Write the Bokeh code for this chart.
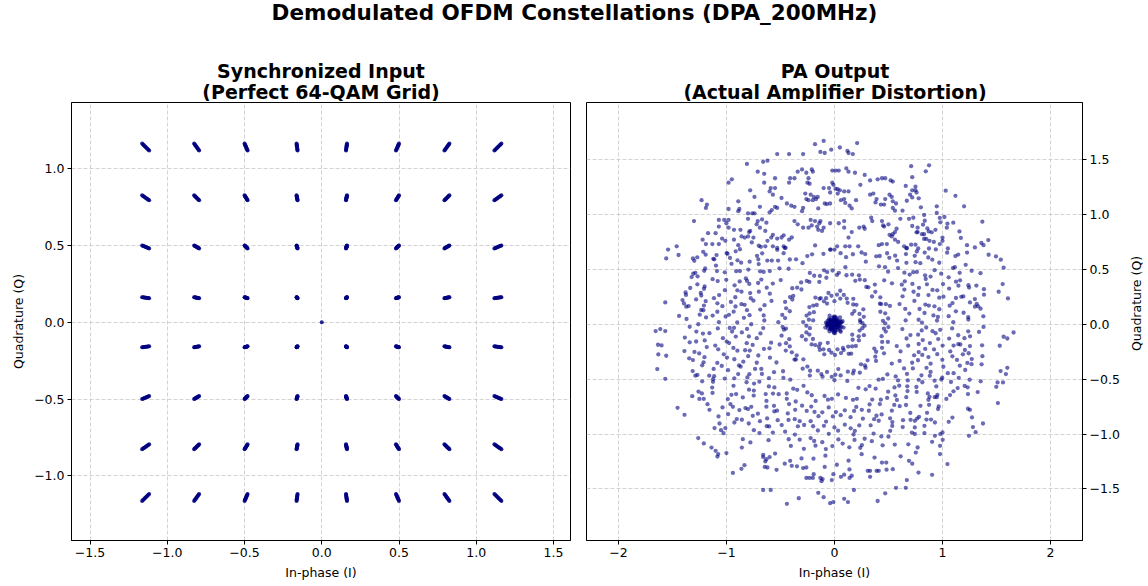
import numpy as np
from bokeh.plotting import figure
from bokeh.layouts import column, row
from bokeh.models import Label, Range1d, FixedTicker, CustomJSTickFormatter, ColumnDataSource
from bokeh.embed import file_html
from bokeh.resources import INLINE

FONT = "DejaVu Sans"
NAVY = "#000080"

# ---------------- data: left panel (synchronized 64-QAM) ----------------
qam_levels = [-1.14, -0.81, -0.49, -0.16, 0.16, 0.49, 0.81, 1.14]
am_gain = [0.980, 0.985, 0.990, 0.995, 1.000, 1.005, 1.010, 1.015, 1.020]
null_point_i = [0.0]
null_point_q = [0.0]

# ---------------- data: right panel (PA output) ----------------
# polar rings (magnitude, phase in degrees)
center_mag = [0.01,0.03,0.05,0.02,0.06,0.04,0.07,0.03,0.05,0.08,0.02,0.06,0.04,0.07,0.01,0.05,0.03,0.06,0.08,0.04,
              0.02,0.07,0.05,0.03,0.06,0.04,0.09,0.02,0.05,0.07,0.03,0.06,0.04,0.08,0.01,0.05,0.06,0.03,0.07,0.04,
              0.09,0.02,0.05,0.06,0.03,0.08,0.04,0.07,0.05,0.02,0.06,0.04,0.09,0.03,0.05,0.07,0.02,0.06,0.04,0.08,
              0.02,0.04,0.06,0.03,0.05,0.07,0.01,0.04,0.06,0.08,0.03,0.05,0.02,0.07,0.04,0.06,0.03,0.05,0.08,0.02,
              0.04,0.06,0.03,0.07,0.05,0.01,0.04,0.06,0.09,0.03]
center_phase = [20,75,130,200,250,310,15,160,280,50,100,190,230,340,290,5,45,110,170,220,
                330,265,95,140,300,60,120,260,180,215,355,30,150,275,240,65,325,205,85,175,
                310,40,250,140,290,20,100,190,345,160,230,10,200,115,320,135,70,90,270,235,
                5,38,72,105,142,178,210,244,279,313,350,25,60,95,128,163,198,232,267,300,
                335,15,85,155,225,295,50,190,340,120]

ring1_mag = [0.26,0.24,0.28,0.25,0.30,0.22,0.27,0.25,0.29,0.23,0.26,0.28,0.24,0.27,0.21,0.26,0.29,0.25,0.23,0.27,
             0.30,0.24,0.26,0.28,0.22,0.25,0.27,0.24,0.29,0.26,0.23,0.27,0.25,0.30,0.24,0.28,0.26,0.22,0.27,0.25,
             0.29,0.24,0.26,0.28,0.23,0.27,0.25,0.30,0.24,0.26,0.28,0.22,0.27,0.25,0.29,0.24,0.26,0.28,0.19,0.20,
             0.18,0.31,0.32,0.31,0.20,0.19,0.24,0.27,0.25,0.23]
ring1_phase = [2,9,14,22,27,33,41,46,53,58,64,72,77,85,90,96,101,108,115,121,
               126,133,139,146,150,157,163,170,176,183,189,196,202,208,214,221,227,233,240,246,
               251,258,264,271,277,283,290,296,302,309,315,320,327,334,340,346,352,357,30,170,
               250,80,200,300,110,330,5,118,235,290]

ring2_mag = [0.47,0.45,0.50,0.48,0.44,0.51,0.47,0.46,0.49,0.43,0.48,0.52,0.46,0.45,0.49,0.47,0.50,0.44,0.48,0.46,
             0.53,0.47,0.45,0.49,0.48,0.43,0.50,0.46,0.48,0.52,0.45,0.47,0.49,0.44,0.48,0.51,0.46,0.48,0.45,0.50,
             0.47,0.43,0.49,0.46,0.52,0.48,0.45,0.47,0.50,0.44,0.48,0.46,0.51,0.47,0.45,0.49,0.48,0.43,0.50,0.46,
             0.48,0.52,0.45,0.47,0.49,0.44,0.48,0.51,0.46,0.47,0.53,0.45,0.48,0.46,0.50,0.44,0.49,0.47,0.45,0.51,
             0.48,0.46,0.43,0.49,0.47,0.52,0.45,0.48,0.46,0.50,0.54,0.41,0.54,0.41,0.53]
ring2_phase = [1,4,6,12,15,21,23,24,30,36,38,44,47,49,55,60,63,64,70,76,
               79,85,87,92,98,100,101,107,113,116,121,123,129,134,136,140,146,149,150,156,
               162,164,170,173,178,183,185,186,192,198,201,206,208,213,219,221,222,228,234,237,
               242,244,250,255,257,261,267,270,271,277,283,286,291,293,298,304,306,307,313,319,
               322,327,329,334,340,342,346,352,355,357,18,110,200,275,330]

ring3_mag = [0.66,0.70,0.63,0.68,0.72,0.65,0.61,0.69,0.67,0.73,0.64,0.70,0.66,0.62,0.71,0.68,0.65,0.74,0.67,0.63,
             0.69,0.66,0.72,0.64,0.68,0.71,0.62,0.67,0.70,0.65,0.66,0.73,0.61,0.69,0.67,0.64,0.71,0.68,0.65,0.70,
             0.63,0.67,0.72,0.66,0.69,0.64,0.68,0.71,0.62,0.66,0.70,0.65,0.67,0.74,0.64,0.69,0.66,0.71,0.68,0.63,
             0.67,0.70,0.65,0.72,0.66,0.69,0.64,0.68,0.71,0.67,0.61,0.70,0.66,0.69,0.65,0.72,0.67,0.64,0.68,0.71]
ring3_phase = [3,8,17,22,26,35,41,44,52,58,63,69,75,80,88,93,99,104,112,118,
               121,130,135,141,147,152,160,165,169,177,183,190,196,199,207,213,218,226,231,237,
               243,248,256,262,265,273,279,284,291,296,303,309,312,320,326,331,338,344,349,356,
               12,48,85,125,155,187,222,252,287,317,341,66,173,240,300,30,108,200,268,352]

ring4_mag = [0.81,0.78,0.84,0.80,0.86,0.77,0.82,0.79,0.85,0.81,0.76,0.83,0.80,0.87,0.78,0.82,0.84,0.79,0.81,0.75,
             0.83,0.80,0.86,0.78,0.82,0.85,0.77,0.81,0.84,0.79,0.80,0.87,0.76,0.83,0.81,0.78,0.85,0.82,0.79,0.84,
             0.77,0.81,0.86,0.80,0.83,0.78,0.82,0.85,0.76,0.80,0.84,0.79,0.81,0.87,0.78,0.83,0.80,0.85,0.82,0.77,
             0.81,0.84,0.79,0.86,0.80,0.83,0.78,0.82,0.85,0.81,0.76,0.84,0.80,0.83,0.79,0.86,0.81,0.78,0.82,0.85,
             0.80,0.77,0.84,0.81,0.83,0.79,0.86,0.80,0.82,0.78,0.85,0.81,0.76,0.83,0.80,0.84,0.79,0.82,0.87,0.80,
             0.83,0.78,0.81,0.85]
ring4_phase = [1,3,7,10,12,16,19,22,23,27,31,33,36,40,41,45,48,50,53,56,
               123,126,128,132,135,137,141,144,145,149,152,155,157,160,163,164,168,171,174,176,
               180,183,185,188,192,194,197,200,202,206,209,211,214,217,219,223,226,228,231,235,
               237,240,243,245,248,252,254,257,260,262,266,269,271,274,277,280,283,285,288,292,
               294,297,300,302,306,309,311,314,317,319,323,326,328,331,334,337,339,342,345,347,
               350,353,356,358]

ring5_mag = [0.95,0.92,0.98,0.94,1.00,0.91,0.96,0.93,0.99,0.95,0.90,0.97,0.94,1.01,0.92,0.96,0.98,0.93,0.95,0.89,
             0.97,0.94,1.00,0.92,0.96,0.99,0.91,0.95,0.98,0.93,0.94,1.01,0.90,0.97,0.95,0.92,0.99,0.96,0.93,0.98,
             0.91,0.95,1.00,0.94,0.97,0.92,0.96,0.99,0.90,0.94,0.98,0.93,0.95,1.02,0.92,0.97,0.94,0.99,0.96,0.91,
             0.95,0.98,0.93,1.00,0.94,0.97,0.92,0.96,0.99,0.95,0.90,0.98,0.94,0.97,0.93,1.00,0.95,0.92,0.96,0.99,
             0.94,0.91,0.98,0.95,0.97,0.93,1.00,0.94,0.96,0.92,0.99,0.95,0.90,0.97,0.94,0.98]
ring5_phase = [2,5,8,10,14,17,19,23,26,28,32,35,37,41,44,46,
               134,136,139,142,144,148,151,153,156,159,161,165,168,170,173,176,179,182,184,187,
               190,193,195,199,202,204,207,211,213,216,219,221,225,228,230,233,236,239,242,244,
               247,250,253,256,258,261,264,267,270,272,276,279,281,284,287,290,293,295,298,301,
               304,307,309,312,315,318,321,323,327,330,332,335,338,341,344,346,349,352,355,357]

ring6_mag = [1.10,1.06,1.13,1.08,1.15,1.04,1.11,1.07,1.14,1.09,1.05,1.12,1.08,1.16,1.06,1.11,1.13,1.07,1.10,1.03,
             1.12,1.08,1.15,1.06,1.10,1.14,1.05,1.09,1.13,1.07,1.08,1.16,1.04,1.12,1.10,1.06,1.14,1.11,1.07,1.13,
             1.05,1.09,1.15,1.08,1.12,1.06,1.11,1.14,1.04,1.08,1.13,1.07,1.10,1.17,1.06,1.12,1.08,1.14,1.11,1.05,
             1.09,1.13,1.07,1.15,1.08,1.12,1.06,1.11,1.14,1.10,1.04,1.13,1.08,1.12,1.07,1.15,1.10,1.06,1.11,1.14,
             1.08,1.05,1.13,1.10,1.12,1.07,1.15,1.09,1.11,1.06,1.14,1.10,1.04,1.12,1.08,1.13,1.07,1.11,1.16]
ring6_phase = [1,4,6,9,12,14,17,20,22,25,28,30,33,36,38,
               142,144,147,150,152,155,158,160,163,166,168,171,174,176,179,182,184,187,190,192,195,198,200,203,206,208,211,214,
               229,232,234,237,240,242,245,248,250,253,256,258,261,264,266,269,272,274,277,280,282,285,288,290,293,296,298,301,304,306,309,311,
               326,329,331,334,337,339,342,345,347,350,353,355,358,
               10,35,148,170,197,236,260,283,300,333,351]

ring7_mag = [1.24,1.20,1.27,1.22,1.29,1.19,1.25,1.21,1.28,1.23,1.18,1.26,1.22,1.30,1.20,1.25,1.27,1.21,1.24,1.19,
             1.26,1.22,1.29,1.20,1.24,1.28,1.19,1.23,1.27,1.21,1.22,1.30,1.18,1.26,1.24,1.20,1.28,1.25,1.21,1.27,
             1.19,1.23,1.29,1.22,1.26,1.20,1.25,1.28,1.18,1.22,1.27,1.21,1.24,1.31,1.20,1.26,1.22,1.28,1.25,1.19,
             1.23]
ring7_phase = [2,5,9,12,15,19,22,25,29,32,
               147,150,154,157,160,164,167,170,174,177,180,184,187,190,194,197,200,204,207,
               235,240,245,250,256,261,266,271,276,282,287,292,297,302,306,
               331,334,337,341,344,347,351,354,357,
               7,17,152,172,192,202,338,349]

ring8_mag = [1.38,1.34,1.41,1.36,1.43,1.33,1.39,1.35,1.42,1.37,1.32,1.40,1.36,1.44,1.34,1.39,1.41,1.35,1.38,1.33,
             1.40,1.36,1.43,1.34,1.38,1.42,1.33,1.37,1.41,1.35,1.36,1.45,1.32,1.40,1.38,1.34,1.42,1.39,1.35,1.41,
             1.37]
ring8_phase = [3,7,11,15,19,24,28,
               152,156,160,164,169,173,177,181,185,190,194,198,203,206,
               241,248,255,262,269,276,283,290,297,
               335,339,344,348,352,357,
               13,162,187,345,200]

side_mag = [1.28,1.35,1.22,1.31,1.18,1.26,1.38,1.24,1.33,1.20,1.29,1.36,1.23,1.31,1.27,1.19,1.34,1.25,1.30,1.22,
            1.37,1.28,1.21,1.32,1.26,1.35,1.24,1.29,1.19,1.33,1.27,1.36,1.23,1.30,1.25,1.38,1.21,1.28,1.32,1.26]
side_phase = [-27,-22,-18,-14,-9,-5,-1,3,8,12,16,21,25,29,152,156,161,165,170,174,
              178,183,187,191,196,200,205,209,147,-25,-12,6,19,158,176,193,203,-16,10,168]

mid_mag = [0.88,0.93,0.99,0.86,1.02,0.91,0.96,0.89,1.00,0.94,0.87,0.97,0.92,1.03,0.90,
           0.95,0.88,0.98,0.93,1.01,0.86,0.96,0.91,0.99,0.94,0.89,1.02,0.92,0.97,0.90]
mid_phase = [-40,-33,-26,-19,-11,-4,4,11,18,26,33,40,140,147,154,
             161,168,175,182,189,196,203,210,217,250,265,280,295,235,310]

# individual points (I, Q)
read_points = [
    (-0.81,1.46),(-0.95,1.32),(-0.98,1.29),(-0.78,1.22),(-0.74,1.16),(-1.23,1.13),(-1.18,1.09),(-1.19,1.06),
    (-0.89,1.12),(-0.98,1.05),(-0.88,1.05),(-0.89,1.03),(-0.80,1.01),(-0.76,1.01),(-0.74,1.01),(-1.30,0.94),
    (-1.07,0.95),(-1.02,0.95),(-0.98,0.95),(-1.00,0.92),(-0.80,0.96),(-1.07,0.89),(-0.98,0.88),(-0.93,0.86),
    (-0.87,0.86),(-0.79,0.84),(-1.17,0.83),(-1.10,0.83),(-0.86,0.80),(-0.83,0.79),(-0.80,0.80),(-1.22,0.77),
    (-1.04,0.78),(-1.01,0.76),(-0.93,0.77),(-1.13,0.73),(-1.07,0.73),(-1.19,0.73),(-0.89,0.72),(-1.46,0.71),
    (-1.54,0.68),
    (-0.18,1.64),(-0.10,1.67),(-0.13,1.57),(-0.09,1.56),(-0.03,1.59),(0.05,1.61),(0.12,1.58),(0.13,1.56),
    (0.17,1.55),(0.21,1.65),(-0.53,1.55),(-0.42,1.55),(-0.29,1.55),(-0.66,1.48),(-0.62,1.49),
    (-0.71,1.39),(-0.65,1.37),(-0.65,1.29),(-0.34,1.39),(-0.30,1.41),(-0.26,1.38),(-0.21,1.41),(-0.20,1.39),
    (-0.24,1.33),(-0.25,1.29),(-0.23,1.28),(-0.41,1.33),(-0.37,1.33),(-0.42,1.29),(-0.55,1.33),(-0.59,1.24),
    (-0.55,1.24),(-0.02,1.40),(0.01,1.40),(0.04,1.40),(-0.02,1.29),(0.11,1.42),(0.13,1.39),(0.19,1.38),
    (0.28,1.36),(0.33,1.31),(0.40,1.32),(0.44,1.33),(0.47,1.33),(0.52,1.31),(0.54,1.30),(0.71,1.44),
    (0.72,1.34),(0.66,1.26),(0.72,1.22),(0.75,1.22),
    (-0.60,1.21),(-0.57,1.18),(-0.49,1.15),(-0.44,1.10),(-0.40,1.08),(-0.37,1.07),(-0.55,1.07),(-0.53,1.06),
    (-0.58,1.04),(-0.60,1.02),(-0.69,1.07),(-0.29,1.06),(-0.30,1.03),(-0.27,1.19),(-0.22,1.18),(-0.19,1.16),
    (-0.17,1.14),(-0.155,1.16),(-0.26,1.14),(-0.24,1.13),(-0.20,1.13),(-0.10,1.24),(-0.05,1.24),(-0.04,1.20),
    (-0.01,1.27),(0.01,1.235),(0.03,1.23),(0.05,1.22),(0.03,1.19),(-0.09,1.10),(-0.07,1.095),(-0.04,1.10),
    (-0.15,1.055),(0.09,1.21),(0.13,1.21),(0.09,1.14),(0.06,1.13),(0.10,1.105),(0.14,1.08),(0.16,1.055),
    (0.20,1.13),(0.24,1.27),(0.33,1.18),(0.36,1.19),(0.39,1.14),(0.38,1.11),(0.43,1.09),(0.47,1.14),
    (0.46,1.09),(0.51,1.18),(0.53,1.16),(0.54,1.12),(0.57,1.10),(0.54,1.06),(0.56,1.035),(0.63,1.035),
    (0.61,0.96),(0.67,1.125),(0.70,1.18),(0.72,1.155),(0.76,1.20),(0.69,0.96),(0.73,0.97),(0.72,0.895),
    (0.77,0.84),(0.34,0.97),(0.35,0.94),(0.44,0.94),(0.45,0.90),(0.23,0.88),(0.27,0.89),(0.28,0.87),
    (0.16,0.84),(0.13,0.79),(0.09,0.94),(0.09,0.88),(0.04,0.92),(-0.04,0.92),(-0.10,0.88),(-0.13,0.94),
    (-0.14,0.92),(-0.18,0.94),(-0.22,0.95),(-0.21,0.90),(-0.24,0.88),(-0.16,0.89),(-0.15,0.86),(-0.115,0.85),
    (-0.37,0.94),(-0.34,0.91),(-0.29,0.88),(-0.395,0.79),(-0.42,0.77),(-0.47,0.81),(-0.49,0.79),(-0.57,0.815),
    (-0.585,0.79),(-0.53,0.78),(-0.62,0.76),(-0.67,0.955),(-0.63,0.925),(-0.71,0.94),(-0.72,0.91),(-0.69,0.88),
    (-0.64,0.85),(-0.75,0.79),(-0.78,0.85),(-0.47,0.71),(-0.46,0.695),(-0.53,0.695),(-0.57,0.71),(-0.70,0.715),
    (-0.64,0.71),(-0.765,0.745),(-0.04,0.68),(0.0,0.68),(0.10,0.71),(0.14,0.71),(0.22,0.71),(0.41,0.72),
    (0.44,0.73),(0.485,0.73),(0.56,0.77),(0.59,0.75),(0.645,0.71),(0.67,0.695),(0.71,0.725),(0.75,0.725),
    (0.51,0.815),(0.53,0.80),(0.54,0.82),(0.50,0.91),(0.46,0.89),(0.575,0.87),(0.56,0.84),
    (0.876,1.448),(0.845,1.393),(1.03,1.217),(1.12,1.17),(1.20,1.074),(0.75,1.253),(0.78,1.147),(0.80,1.065),
    (0.947,1.074),(0.947,1.014),(1.018,0.977),(1.369,0.934),(1.424,0.767),(1.36,0.74),(1.38,0.72),(1.30,0.70),
    (1.227,0.72),(1.157,0.846),(1.17,0.786),(1.10,0.925),(1.046,0.916),(1.04,0.88),
    (0.83,0.995),(0.836,0.943),(0.82,0.907),(0.77,0.88),(0.76,0.837),(0.86,0.873),(0.873,0.846),(0.81,0.82),
    (0.83,0.82),(0.83,0.777),(0.85,0.777),(0.88,0.76),(0.935,0.86),(0.975,0.968),(0.98,0.928),(0.90,0.837),
    (0.92,0.75),(1.0,0.79),(1.0,0.76),(0.975,0.73),(0.775,0.69),(0.875,0.69),(1.05,0.69),
    (-1.566,0.199),(-1.655,-0.062),(-1.612,-0.044),(-1.566,-0.062),(-1.633,-0.187),(-1.60,-0.193),(-1.63,-0.275),
    (-1.557,-0.287),(-1.64,-0.408),(-1.566,-0.497),(-1.557,0.60),(-1.443,0.631),(-1.307,0.46),(-1.335,0.33),
    (-1.378,0.29),(-1.406,0.22),(-1.393,0.19),(-1.372,0.16),(-1.31,0.60),(-1.27,0.61),(-1.215,0.66),
    (-1.452,-0.761),(-1.388,-0.825),(-1.261,-1.037),(-1.209,-1.086),(-1.083,-1.205),(-0.94,-1.354),(-0.861,-1.317),
    (-0.833,-1.284),(-1.316,-0.655),(-1.227,-0.63),(-1.25,-0.68),(-1.21,-0.68),(-1.175,-0.728),(-1.157,-0.78),
    (-1.073,-0.84),(-1.064,-0.904),(-1.11,-0.946),(-1.05,-0.965),(-1.027,-0.992),(-1.01,-0.946),(-1.138,-1.123),
    (-1.10,-1.153),(-1.076,-1.183),(-1.0,-1.174),(-1.036,-0.758),(-0.987,-0.682),(-0.963,-0.727),(-0.94,-0.752),
    (-0.984,-0.819),(-0.926,-0.895),(-0.904,-0.864),(-0.857,-0.87),(-0.793,-0.904),(-0.848,-1.047),(-0.857,-1.123),
    (-0.778,-1.077),(-0.91,-0.636),(-0.848,-0.667),(-0.824,-0.764),(-0.80,-0.773),(-0.77,-0.752),(-0.88,-0.782),
    (-0.756,-0.834),(-0.746,-0.965),
    (-0.44,-1.636),(-0.33,-1.585),(-0.15,-1.536),(-0.10,-1.575),(-0.04,-1.63),(-0.01,-1.62),(0.09,-1.59),
    (0.125,-1.62),(0.18,-1.51),(0.40,-1.61),(0.47,-1.54),(0.57,-1.49),(0.66,-1.49),(-0.66,-1.51),(-0.59,-1.51),
    (-0.26,-1.40),(-0.23,-1.40),(-0.20,-1.40),(-0.13,-1.40),(-0.12,-1.43),(-0.11,-1.41),(-0.01,-1.366),(0.06,-1.39),
    (0.09,-1.37),(0.14,-1.40),(0.16,-1.38),(0.33,-1.335),(0.33,-1.39),(0.39,-1.335),(0.67,-1.42),(0.54,-1.32),
    (-0.29,-1.31),(-0.26,-1.305),(-0.09,-1.30),(-0.41,-1.244),(-0.395,-1.29),(-0.46,-1.27),(-0.64,-1.25),
    (-0.63,-1.23),(-0.66,-1.21),(-0.60,-1.21),(-0.62,-1.305),(-0.645,-1.30),(0.72,-1.27),(0.69,-1.244),
    (0.48,-1.26),(0.44,-1.26),(0.41,-1.335),
    (1.513,-0.718),(1.375,-0.904),(1.307,-0.983),(1.245,-1.016),(1.282,-0.937),(1.273,-0.849),(1.236,-0.77),
    (1.254,-0.78),(1.236,-0.636),(1.326,-0.618),(1.092,-0.85),(1.058,-0.889),(1.07,-0.645),(1.036,-0.68),
    (1.046,-1.274),(0.977,-1.183),(0.977,-1.108),(1.002,-1.053),(0.904,-1.071),(0.93,-1.016),(0.98,-1.0),
    (1.0,-0.986),(0.904,-1.372),(0.778,-1.351),(0.77,-1.123),(0.753,-1.169),(0.833,-0.925),(0.833,-0.992),
    (0.959,-0.773),(0.965,-0.749),(0.93,-0.895),(0.894,-0.868),(0.852,-0.868),(0.857,-0.807),(0.876,-0.734),
    (0.87,-0.688),(0.88,-0.661),(0.928,-0.664),(0.947,-0.664),(0.864,-0.63),(0.796,-0.743),(0.783,-0.843),
    (0.765,-0.859),(0.744,-0.88),(0.744,-0.94),(0.744,-1.0),
    (1.658,-0.075),(1.60,-0.13),(1.566,-0.114),(1.53,-0.196),(1.606,0.235),(1.557,0.366),(1.52,0.296),
    (1.566,0.515),(1.495,0.618),(1.54,0.588),(1.427,0.633),(1.60,-0.397),(1.538,-0.427),(1.587,-0.454),
    (1.51,-0.53),(1.56,-0.53),(1.498,-0.57),
]

main_title = "Demodulated OFDM Constellations (DPA_200MHz)"
left_title = ["Synchronized Input", "(Perfect 64-QAM Grid)"]
right_title = ["PA Output", "(Actual Amplifier Distortion)"]
x_label = "In-phase (I)"
y_label = "Quadrature (Q)"

# ---------------- build sources ----------------
lx, ly = [], []
for i in qam_levels:
    for q in qam_levels:
        for g in am_gain:
            lx.append(i * g)
            ly.append(q * g)
lx += null_point_i
ly += null_point_q
left_src = ColumnDataSource(dict(x=lx, y=ly))

rings = [(center_mag, center_phase), (ring1_mag, ring1_phase), (ring2_mag, ring2_phase),
         (ring3_mag, ring3_phase), (ring4_mag, ring4_phase), (ring5_mag, ring5_phase),
         (ring6_mag, ring6_phase), (ring7_mag, ring7_phase), (ring8_mag, ring8_phase),
         (side_mag, side_phase), (mid_mag, mid_phase)]
rx, ry = [], []
for mags, phases in rings:
    for m, ph in zip(mags, phases):
        a = np.deg2rad(ph)
        rx.append(m * np.cos(a))
        ry.append(m * np.sin(a))
for x, y in read_points:
    rx.append(x)
    ry.append(y)
right_src = ColumnDataSource(dict(x=rx, y=ry))

# ---------------- styling helper ----------------
def style(p, xt, yt, xfmt, yfmt):
    p.outline_line_color = "black"
    p.outline_line_width = 1
    p.xaxis.ticker = FixedTicker(ticks=xt)
    p.yaxis.ticker = FixedTicker(ticks=yt)
    p.xaxis.formatter = CustomJSTickFormatter(code=xfmt)
    p.yaxis.formatter = CustomJSTickFormatter(code=yfmt)
    for ax in p.axis:
        ax.axis_line_color = "black"
        ax.major_tick_line_color = "black"
        ax.major_tick_out = 4
        ax.major_tick_in = 0
        ax.minor_tick_line_color = None
        ax.major_label_text_font = FONT
        ax.major_label_text_font_size = "12.5px"
        ax.major_label_text_color = "black"
        ax.axis_label_text_font = FONT
        ax.axis_label_text_font_size = "12.5px"
        ax.axis_label_text_font_style = "normal"
        ax.axis_label_text_color = "black"
        ax.major_label_standoff = 3
    p.grid.grid_line_color = "#c8c8c8"
    p.grid.grid_line_dash = "4 2"
    p.grid.grid_line_width = 0.8
    p.background_fill_color = "white"
    p.border_fill_color = "white"

fmt1 = "return (tick < 0 ? '\\u2212' : '') + Math.abs(tick).toFixed(1);"
fmt0 = "return (tick < 0 ? '\\u2212' : '') + Math.abs(tick).toFixed(0);"

# header with titles
HEAD_H = 101
header = figure(width=1148, height=HEAD_H, x_range=Range1d(0, 1148), y_range=Range1d(0, HEAD_H),
                x_axis_type=None, y_axis_type=None, toolbar_location=None, output_backend="svg",
                min_border=0, outline_line_color=None)
header.grid.visible = False
header.add_layout(Label(x=574, y=HEAD_H - 12, text=main_title, text_font=FONT, text_font_size="21.5px",
                        text_font_style="bold", text_color="black", text_align="center", text_baseline="middle"))
for cx, lines in [(320.5, left_title), (834.5, right_title)]:
    header.add_layout(Label(x=cx, y=HEAD_H - 70.5, text=lines[0], text_font=FONT, text_font_size="19px",
                            text_font_style="bold", text_color="black", text_align="center", text_baseline="middle"))
    header.add_layout(Label(x=cx, y=HEAD_H - 91, text=lines[1], text_font=FONT, text_font_size="19px",
                            text_font_style="bold", text_color="black", text_align="center", text_baseline="middle"))

ROW_H = 586 - HEAD_H
P1_W = 578
LAB_W = 26
P2_W = 1148 - P1_W - LAB_W

# left panel
p1 = figure(width=P1_W, height=ROW_H, x_range=Range1d(-1.62, 1.61), y_range=Range1d(-1.42, 1.43),
            toolbar_location=None, output_backend="svg",
            min_border_left=71, min_border_right=8, min_border_top=1, min_border_bottom=46)
style(p1, [-1.5, -1.0, -0.5, 0.0, 0.5, 1.0, 1.5], [-1.0, -0.5, 0.0, 0.5, 1.0], fmt1, fmt1)
p1.xaxis.axis_label = x_label
p1.yaxis.axis_label = y_label
p1.scatter("x", "y", source=left_src, size=4, fill_color=NAVY, fill_alpha=0.85, line_color=None)

# right panel
p2 = figure(width=P2_W, height=ROW_H, x_range=Range1d(-2.295, 2.296), y_range=Range1d(-1.97, 2.02),
            toolbar_location=None, output_backend="svg", y_axis_location="right",
            min_border_left=8, min_border_right=P2_W - 8 - 497, min_border_top=1, min_border_bottom=46)
style(p2, [-2, -1, 0, 1, 2], [-1.5, -1.0, -0.5, 0.0, 0.5, 1.0, 1.5], fmt0, fmt1)
p2.xaxis.axis_label = x_label
p2.scatter("x", "y", source=right_src, size=4.3, fill_color=NAVY, fill_alpha=0.58, line_color=None)

# right-hand axis title (reads bottom-to-top as in the reference)
lab = figure(width=LAB_W, height=ROW_H, x_range=Range1d(0, LAB_W), y_range=Range1d(0, ROW_H),
             x_axis_type=None, y_axis_type=None, toolbar_location=None, output_backend="svg",
             min_border=0, outline_line_color=None)
lab.grid.visible = False
lab.add_layout(Label(x=14, y=ROW_H - (323.5 - HEAD_H), text=y_label, angle=90, angle_units="deg",
                     text_font=FONT, text_font_size="12.5px", text_color="black",
                     text_align="center", text_baseline="middle"))

layout = column(header, row(p1, p2, lab))
open("out.html", "w").write(file_html(layout, INLINE))
